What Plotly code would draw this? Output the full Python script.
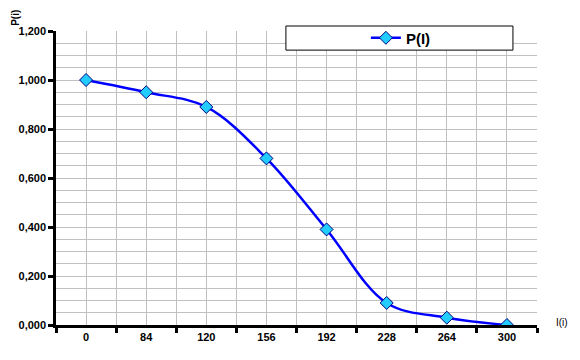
import plotly.graph_objects as go

categories = ["0", "84", "120", "156", "192", "228", "264", "300"]
p_values = [1.000, 0.950, 0.890, 0.680, 0.390, 0.090, 0.030, 0.000]
series_name = "P(I)"
y_title = "P(i)"
x_title = "I(i)"

x_pos = list(range(len(categories)))

# page body has an 8px default margin; size the figure so the plot area lands
# where it is in the reference window
fig = go.Figure()
fig.add_trace(go.Scatter(
    x=x_pos, y=p_values, name=series_name, mode="lines+markers",
    line=dict(color="#0000FF", width=2.5, shape="spline", smoothing=1.0),
    marker=dict(symbol="diamond", size=10, color="#22CCFF",
                line=dict(color="#000080", width=1)),
))

fig.update_layout(
    width=572, height=352,
    margin=dict(l=48, r=43, t=23, b=35, autoexpand=False),
    paper_bgcolor="white", plot_bgcolor="white",
    separators=",.",
    font=dict(family="Liberation Sans, Arial, sans-serif", size=11, color="black",
              weight="bold"),
    showlegend=True,
    legend=dict(x=0.717, y=0.976, xanchor="center", yanchor="middle",
                bgcolor="rgba(0,0,0,0)", borderwidth=0,
                font=dict(size=15, weight="bold")),
    shapes=[dict(type="rect", xref="paper", yref="paper",
                 x0=0.478, x1=0.950, y0=0.935, y1=1.017,
                 fillcolor="white", line=dict(color="black", width=1),
                 layer="above")],
    annotations=[
        dict(text=y_title, xref="paper", yref="paper",
             x=-0.083, y=1.045, textangle=-90, showarrow=False,
             font=dict(size=10, weight="bold"), xanchor="center", yanchor="middle"),
        dict(text=x_title, xref="paper", yref="paper",
             x=1.035, y=0.01, showarrow=False, xanchor="left", yanchor="middle",
             font=dict(size=10, weight="normal")),
    ],
)

fig.update_xaxes(
    range=[-0.5, len(categories) - 0.5],
    tickvals=x_pos, ticktext=categories, ticks="", ticklen=0,
    showgrid=True, gridcolor="#C0C0C0", gridwidth=1,
    showline=True, linecolor="black", linewidth=2.5,
    zeroline=False, automargin=False,
    minor=dict(tick0=-0.5, dtick=1, ticks="outside", ticklen=5, tickwidth=2.5,
               tickcolor="black", showgrid=True, gridcolor="#C0C0C0", gridwidth=1),
)
fig.update_yaxes(
    range=[0, 1.2], dtick=0.2, tickformat=".3f",
    ticks="outside", ticklen=5, tickwidth=2.5, tickcolor="black",
    showgrid=True, gridcolor="#C0C0C0", gridwidth=1,
    showline=True, linecolor="black", linewidth=2.5,
    zeroline=False, automargin=False,
    minor=dict(dtick=0.05, showgrid=True, gridcolor="#C0C0C0", gridwidth=1),
)

fig.write_html("out.html")
